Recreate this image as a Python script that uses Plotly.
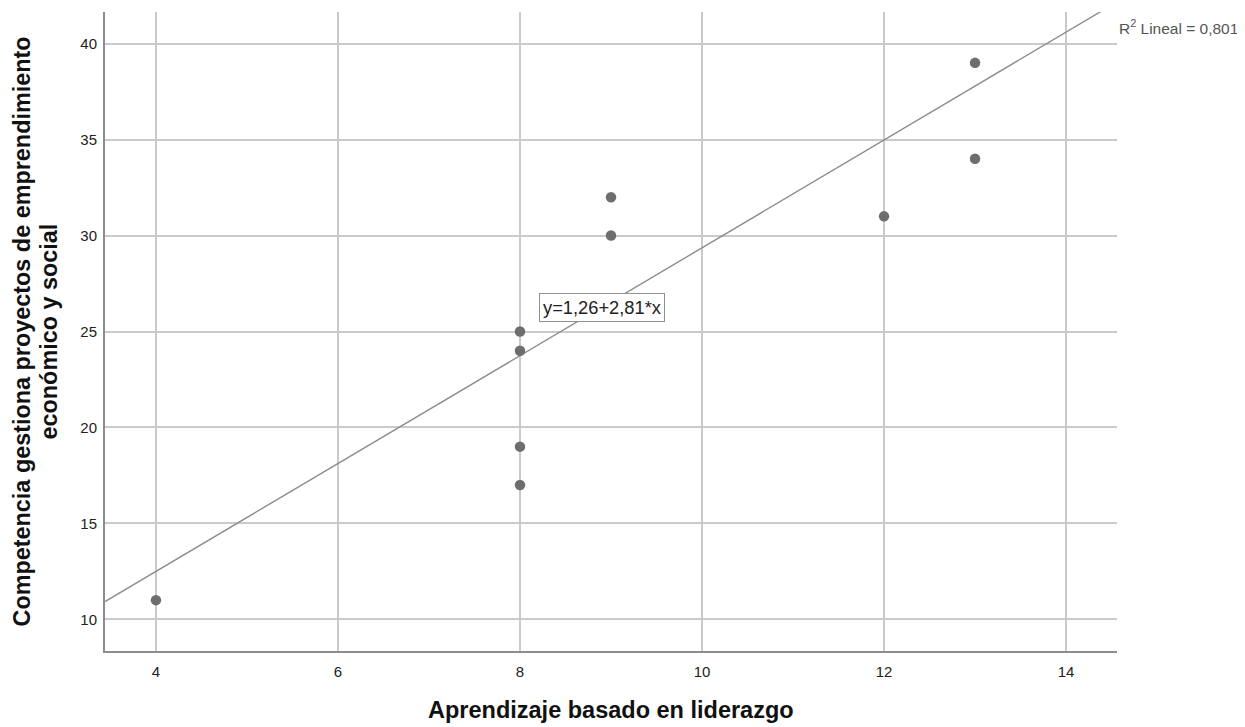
import plotly.graph_objects as go

# Data
x_vals = [4, 8, 8, 8, 8, 9, 9, 12, 13, 13]
y_vals = [11, 17, 19, 24, 25, 30, 32, 31, 34, 39]
intercept = 1.26
slope = 2.81
r2 = 0.801
x_ticks = [4, 6, 8, 10, 12, 14]
y_ticks = [10, 15, 20, 25, 30, 35, 40]
x_range = [3.44, 14.56]
y_range = [8.35, 41.65]

x_title = "Aprendizaje basado en liderazgo"
y_title_1 = "Competencia gestiona proyectos de emprendimiento"
y_title_2 = "económico y social"

def es(v, d):
    return f"{v:.{d}f}".replace(".", ",")

fig = go.Figure()

# regression line over full x range
line_x = [x_range[0], x_range[1]]
line_y = [intercept + slope * v for v in line_x]
fig.add_trace(go.Scatter(x=line_x, y=line_y, mode="lines",
                         line=dict(color="#8c8c8c", width=1.4),
                         hoverinfo="skip", showlegend=False))

fig.add_trace(go.Scatter(x=x_vals, y=y_vals, mode="markers",
                         marker=dict(color="#6e6e6e", size=10.5, line=dict(width=0)),
                         showlegend=False))

# page has an 8px body margin; compensate
fig.update_layout(
    width=1237, height=719,
    margin=dict(l=97, r=128, t=4, b=76),
    paper_bgcolor="white", plot_bgcolor="white",
    font=dict(family="Liberation Sans, Arial, sans-serif", color="#222"),
    showlegend=False,
)
axis_common = dict(showgrid=True, gridcolor="#cacaca", gridwidth=1.5,
                   showline=True, linecolor="#8c8c8c", linewidth=2,
                   zeroline=False, ticks="", tickfont=dict(size=15, color="#222"))
fig.update_xaxes(range=x_range, tickvals=x_ticks, ticktext=[str(v) for v in x_ticks],
                 ticklabelstandoff=6, **axis_common)
fig.update_yaxes(range=y_range, tickvals=y_ticks, ticktext=[str(v) for v in y_ticks],
                 ticklabelstandoff=3, **axis_common)

# equation label
fig.add_annotation(x=8.90, y=26.25, xref="x", yref="y",
                   text=f"y={es(intercept, 2)}+{es(slope, 2)}*x",
                   showarrow=False, font=dict(size=18.3, color="#222"),
                   bordercolor="#909090", borderwidth=1, borderpad=3, bgcolor="white")

# R2 label
fig.add_annotation(x=1.0, y=(651 - 27) / 639, xref="paper", yref="paper",
                   text=f"R<sup>2</sup> Lineal = {es(r2, 3)}",
                   showarrow=False, xanchor="left", yanchor="middle",
                   font=dict(size=15.5, color="#555"))

# axis titles
fig.add_annotation(x=0.5, y=0, xref="paper", yref="paper",
                   text=f"<b>{x_title}</b>",
                   showarrow=False, yanchor="middle", yshift=-59,
                   font=dict(size=23.5, color="#111"))
fig.add_annotation(x=0, y=0.5, xref="paper", yref="paper",
                   text=f"<b>{y_title_1}</b>",
                   showarrow=False, textangle=-90, xanchor="center", yanchor="middle",
                   xshift=-84, font=dict(size=23.4, color="#111"))
fig.add_annotation(x=0, y=0.5, xref="paper", yref="paper",
                   text=f"<b>{y_title_2}</b>",
                   showarrow=False, textangle=-90, xanchor="center", yanchor="middle",
                   xshift=-57, font=dict(size=23.4, color="#111"))

fig.write_html("out.html")
